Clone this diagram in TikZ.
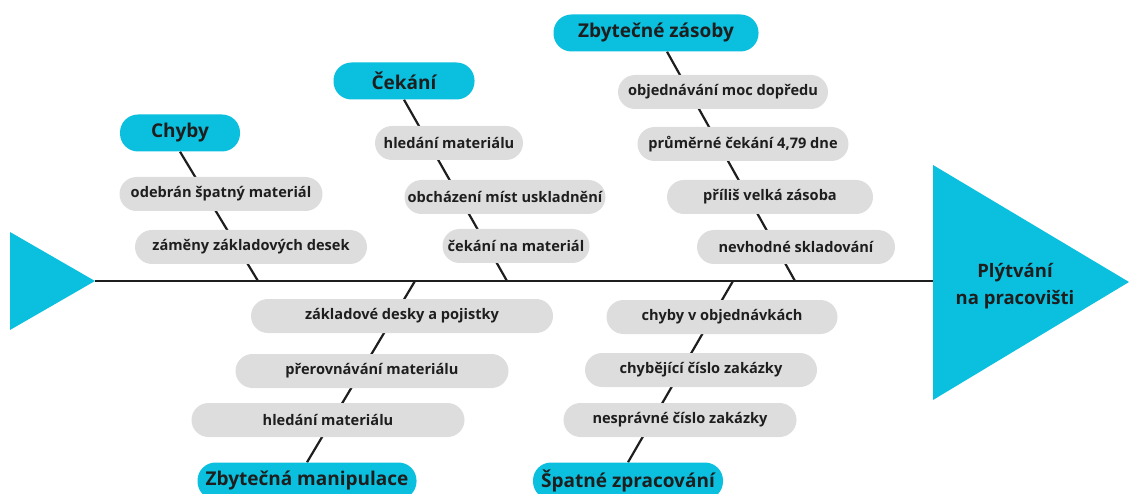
\documentclass[tikz,border=0pt]{standalone}
\usepackage{fontspec}
\setmainfont{Open Sans}
\usetikzlibrary{backgrounds}
\definecolor{fishcyan}{HTML}{0BBFDF}
\definecolor{causegray}{HTML}{DDDDDD}
\definecolor{ink}{HTML}{1E1E1E}
\tikzset{
  category/.style={fill=fishcyan, rounded corners=18pt, minimum height=37pt, inner sep=0pt,
    text=ink, font=\fontsize{19}{21}\selectfont\bfseries},
  cause/.style={fill=causegray, rounded corners=17pt, minimum height=34pt, inner sep=0pt,
    text=ink, font=\fontsize{14.6}{16}\selectfont\bfseries},
  bone/.style={draw=ink, line width=2.2pt},
}
\begin{document}
\begin{tikzpicture}[x=1pt,y=-1pt]
\useasboundingbox (0,0) rectangle (1129,494);

% tail and head of the fish
\fill[fishcyan] (10,232) -- (95,281) -- (10,330) -- cycle;
\fill[fishcyan] (933,165) -- (1129,282) -- (933,400) -- cycle;
\node[text=ink, font=\fontsize{18.5}{27}\selectfont\bfseries, align=center] (effect) at (1015,286)
  {Plýtvání\\na pracovišti};
\coordinate (tail) at (95,281);
\coordinate (head) at (933,281);

% category heads
\node[category, minimum width=120pt] (chyby) at (180,133) {Chyby};
\node[category, minimum width=141pt] (cekani) at (404,81) {Čekání};
\node[category, minimum width=205pt] (zasoby) at (656,33) {Zbytečné zásoby};
\node[category, minimum width=219pt] (manip) at (307,481) {Zbytečná manipulace};
\node[category, minimum width=190pt] (zprac) at (628,481) {Špatné zpracování};

% where each bone meets the spine
\coordinate (j1) at (258,281);
\coordinate (j2) at (507,281);
\coordinate (j3) at (795,281);
\coordinate (j4) at (415,281);
\coordinate (j5) at (733,281);

% causes
\node[cause, minimum width=203pt] (c11) at (221,194) {odebrán špatný materiál};
\node[cause, minimum width=232pt] (c12) at (251,247) {záměny základových desek};

\node[cause, minimum width=148pt] (c21) at (449,143) {hledání materiálu};
\node[cause, minimum width=201pt] (c22) at (505,197) {obcházení míst uskladnění};
\node[cause, minimum width=147pt] (c23) at (516,246) {čekání na materiál};

\node[cause, minimum width=210pt] (c31) at (723,92) {objednávání moc dopředu};
\node[cause, minimum width=211pt] (c32) at (743,144) {průměrné čekání 4,79 dne};
\node[cause, minimum width=206pt] (c33) at (770,197) {příliš velká zásoba};
\node[cause, minimum width=198pt] (c34) at (796,247) {nevhodné skladování};

\node[cause, minimum width=302pt] (c41) at (402,316) {základové desky a pojistky};
\node[cause, minimum width=273pt] (c42) at (372,371) {přerovnávání materiálu};
\node[cause, minimum width=273pt] (c43) at (328,420) {hledání materiálu};

\node[cause, minimum width=231pt] (c51) at (722,317) {chyby v objednávkách};
\node[cause, minimum width=232pt] (c52) at (701,370) {chybějící číslo zakázky};
\node[cause, minimum width=233pt] (c53) at (680,420) {nesprávné číslo zakázky};

\begin{pgfonlayer}{background}
  \draw[bone] (tail) -- (head);
  \draw[bone] (chyby.south) -- (j1);
  \draw[bone] (cekani.south) -- (j2);
  \draw[bone] ([xshift=11pt]zasoby.south) -- (j3);
  \draw[bone] (manip.north) -- (j4);
  \draw[bone] (zprac.north) -- (j5);
\end{pgfonlayer}
\end{tikzpicture}
\end{document}
